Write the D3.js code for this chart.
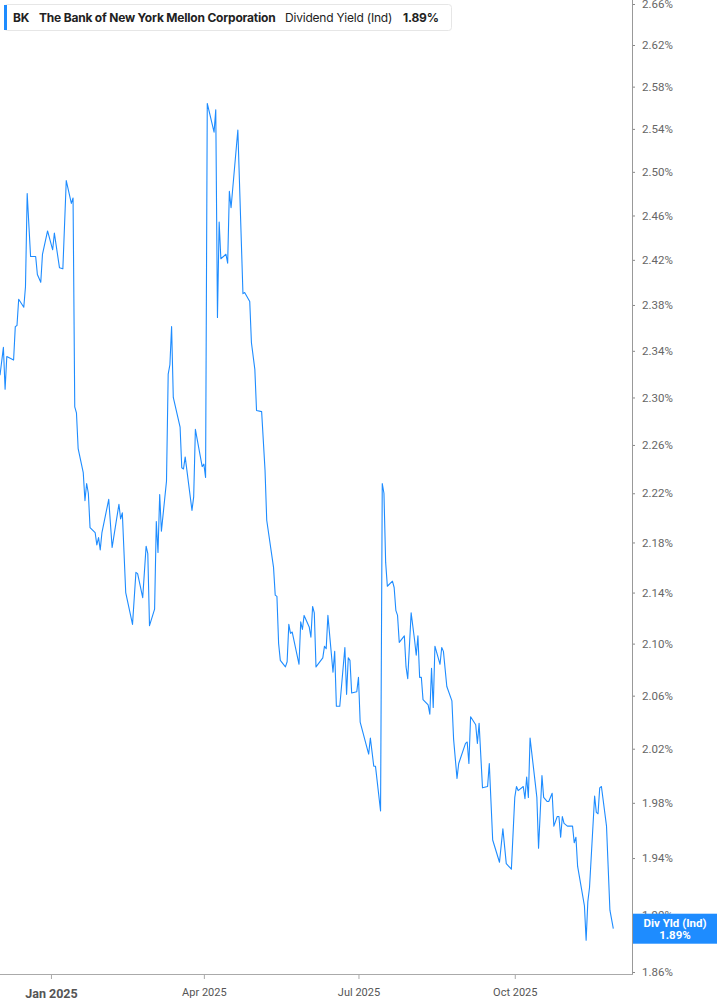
<!DOCTYPE html>
<html>
<head>
<meta charset="utf-8">
<script src="https://cdn.jsdelivr.net/npm/d3@7"></script>
<style>
  body { margin: 0; background: #fff; }
  svg { display: block; }
  .tick text { font-family: Roboto, "Noto Sans", sans-serif; }
</style>
</head>
<body>
<svg id="chart"></svg>
<script>
// Dividend yield (indicated), BK, in percent
const dates = [
  "2024-12-02","2024-12-04","2024-12-05","2024-12-06","2024-12-10","2024-12-11","2024-12-12","2024-12-13",
  "2024-12-16","2024-12-17","2024-12-18","2024-12-20","2024-12-23","2024-12-24","2024-12-26","2024-12-27",
  "2024-12-30","2025-01-02","2025-01-03","2025-01-06","2025-01-08","2025-01-10","2025-01-13","2025-01-14",
  "2025-01-15","2025-01-16","2025-01-17","2025-01-20","2025-01-21","2025-01-22","2025-01-23","2025-01-24",
  "2025-01-27","2025-01-28","2025-01-29","2025-01-30","2025-01-31","2025-02-04","2025-02-06","2025-02-10",
  "2025-02-11","2025-02-12","2025-02-14","2025-02-18","2025-02-20","2025-02-21","2025-02-24","2025-02-26",
  "2025-02-27","2025-02-28","2025-03-03","2025-03-04","2025-03-05","2025-03-06","2025-03-07","2025-03-10",
  "2025-03-11","2025-03-12","2025-03-13","2025-03-14","2025-03-18","2025-03-19","2025-03-20","2025-03-21",
  "2025-03-25","2025-03-26","2025-03-27","2025-03-31","2025-04-01","2025-04-02","2025-04-03","2025-04-07",
  "2025-04-08","2025-04-09","2025-04-10","2025-04-11","2025-04-14","2025-04-15","2025-04-16","2025-04-17",
  "2025-04-21","2025-04-24","2025-04-25","2025-04-28","2025-04-29","2025-05-01","2025-05-02","2025-05-05",
  "2025-05-07","2025-05-08","2025-05-12","2025-05-13","2025-05-14","2025-05-15","2025-05-16","2025-05-19",
  "2025-05-20","2025-05-21","2025-05-22","2025-05-23","2025-05-27","2025-05-28","2025-05-29","2025-05-30",
  "2025-06-02","2025-06-03","2025-06-04","2025-06-05","2025-06-06","2025-06-10","2025-06-11","2025-06-12",
  "2025-06-13","2025-06-16","2025-06-17","2025-06-18","2025-06-20","2025-06-23","2025-06-24","2025-06-25",
  "2025-06-26","2025-06-27","2025-06-30","2025-07-01","2025-07-02","2025-07-07","2025-07-08","2025-07-10",
  "2025-07-11","2025-07-14","2025-07-15","2025-07-16","2025-07-17","2025-07-18","2025-07-21","2025-07-22",
  "2025-07-23","2025-07-24","2025-07-25","2025-07-28","2025-07-29","2025-07-30","2025-08-01","2025-08-03",
  "2025-08-04","2025-08-05","2025-08-06","2025-08-07","2025-08-08","2025-08-11","2025-08-12","2025-08-13",
  "2025-08-14","2025-08-15","2025-08-18","2025-08-19","2025-08-20","2025-08-22","2025-08-25","2025-08-26",
  "2025-08-28","2025-08-29","2025-09-02","2025-09-03","2025-09-04","2025-09-05","2025-09-08","2025-09-09",
  "2025-09-10","2025-09-12","2025-09-15","2025-09-16","2025-09-18","2025-09-22","2025-09-24","2025-09-26",
  "2025-09-29","2025-10-01","2025-10-02","2025-10-03","2025-10-06","2025-10-07","2025-10-08","2025-10-09",
  "2025-10-10","2025-10-13","2025-10-14","2025-10-15","2025-10-17","2025-10-18","2025-10-20","2025-10-21",
  "2025-10-23","2025-10-24","2025-10-26","2025-10-27","2025-10-28","2025-10-29","2025-10-30","2025-11-01",
  "2025-11-03","2025-11-04","2025-11-05","2025-11-06","2025-11-07","2025-11-11","2025-11-12","2025-11-13",
  "2025-11-14","2025-11-17","2025-11-18","2025-11-19","2025-11-20","2025-11-21","2025-11-24","2025-11-26",
  "2025-11-28"
];

const yields = [
  2.319,2.343,2.307,2.335,2.332,2.361,2.362,2.385,
  2.378,2.396,2.480,2.423,2.423,2.407,2.400,2.425,
  2.446,2.429,2.444,2.413,2.412,2.492,2.471,2.476,
  2.292,2.287,2.257,2.237,2.214,2.228,2.220,2.192,
  2.188,2.178,2.184,2.174,2.188,2.215,2.176,2.211,
  2.199,2.204,2.140,2.115,2.156,2.155,2.136,2.177,
  2.171,2.114,2.127,2.197,2.172,2.219,2.189,2.230,
  2.320,2.328,2.361,2.300,2.275,2.241,2.240,2.250,
  2.206,2.217,2.273,2.242,2.244,2.233,2.564,2.537,
  2.558,2.369,2.454,2.421,2.425,2.417,2.482,2.467,
  2.539,2.390,2.391,2.383,2.347,2.324,2.289,2.288,
  2.239,2.198,2.160,2.138,2.137,2.100,2.087,2.082,
  2.086,2.115,2.108,2.109,2.084,2.117,2.111,2.122,
  2.113,2.105,2.129,2.124,2.082,2.089,2.098,2.096,
  2.122,2.078,2.094,2.052,2.052,2.097,2.061,2.089,
  2.087,2.062,2.063,2.074,2.040,2.016,2.028,2.007,
  2.007,1.974,2.228,2.220,2.164,2.145,2.149,2.144,
  2.126,2.122,2.101,2.106,2.082,2.073,2.124,2.103,
  2.091,2.106,2.074,2.074,2.057,2.053,2.046,2.081,
  2.051,2.098,2.084,2.097,2.094,2.067,2.056,2.027,
  1.998,2.009,2.024,2.025,2.009,2.044,2.038,2.024,
  2.039,1.991,1.992,2.009,1.953,1.937,1.961,1.936,
  1.932,1.984,1.992,1.989,1.992,1.983,1.999,1.984,
  2.028,1.995,1.984,1.947,2.000,1.984,1.981,1.981,
  1.987,1.963,1.970,1.970,1.955,1.970,1.965,1.963,
  1.963,1.963,1.951,1.955,1.934,1.906,1.882,1.909,
  1.919,1.985,1.973,1.972,1.991,1.992,1.963,1.903,
  1.890
];

const yTicks = [1.86,1.90,1.94,1.98,2.02,2.06,2.10,2.14,2.18,2.22,2.26,2.30,2.34,2.38,2.42,2.46,2.50,2.54,2.58,2.62,2.66];
const xTickDates = ["2025-01-01","2025-04-01","2025-07-01","2025-10-01"];
const xTickLabels = ["Jan 2025","Apr 2025","Jul 2025","Oct 2025"];

const ticker = "BK";
const company = "The Bank of New York Mellon Corporation";
const metric = "Dividend Yield (Ind)";
const lastValue = yields[yields.length - 1];

const W = 717, H = 1005;
const plotRight = 632;   // y axis sits here
const plotBottom = 974;  // x axis line
const lineColor = "#1e8cff";

const parse = d3.timeParse("%Y-%m-%d");
const data = dates.map((d, i) => ({ date: parse(d), value: yields[i] }));

const svg = d3.select("#chart")
    .attr("width", W)
    .attr("height", H)
    .attr("viewBox", `0 0 ${W} ${H}`);

const x = d3.scaleTime()
    .domain([parse("2024-12-02"), parse("2025-12-09")])
    .range([0, plotRight]);

// log scale on the yield axis
const y = d3.scaleLog()
    .domain([1.86, 2.66])
    .range([972, 4]);

svg.append("defs").append("clipPath")
    .attr("id", "plotClip")
    .append("rect")
    .attr("x", 0).attr("y", 0)
    .attr("width", plotRight).attr("height", plotBottom);

// y axis on the right
const yAxis = svg.append("g")
    .attr("transform", `translate(${plotRight},0)`)
    .call(d3.axisRight(y)
        .tickValues(yTicks)
        .tickSize(3)
        .tickSizeOuter(0)
        .tickPadding(7)
        .tickFormat(d => d.toFixed(2) + "%"));
yAxis.select(".domain").remove();
yAxis.selectAll(".tick line").attr("stroke", "#888");
yAxis.selectAll(".tick text")
    .attr("fill", "#666")
    .style("font-size", "11.5px");

svg.append("line")
    .attr("x1", plotRight + 0.5).attr("x2", plotRight + 0.5)
    .attr("y1", 0).attr("y2", plotBottom)
    .attr("stroke", "#999").attr("stroke-width", 1);

// x axis
const xAxis = svg.append("g")
    .attr("transform", `translate(0,${plotBottom})`)
    .call(d3.axisBottom(x)
        .tickValues(xTickDates.map(parse))
        .tickSize(5)
        .tickSizeOuter(0)
        .tickPadding(9)
        .tickFormat((d, i) => xTickLabels[i]));
xAxis.select(".domain").remove();
xAxis.selectAll(".tick line").attr("stroke", "#aaa");
xAxis.selectAll(".tick text")
    .attr("fill", "#555")
    .style("font-size", "11px");
xAxis.selectAll(".tick text")
    .filter((d, i) => i === 0)
    .style("font-weight", "bold")
    .style("font-size", "12.5px")
    .attr("dy", "0.8em");

svg.append("line")
    .attr("x1", 0).attr("x2", plotRight + 1)
    .attr("y1", plotBottom + 0.5).attr("y2", plotBottom + 0.5)
    .attr("stroke", "#aaa").attr("stroke-width", 1.2);

// the yield line
const line = d3.line()
    .x(d => x(d.date))
    .y(d => y(d.value));

svg.append("path")
    .datum(data)
    .attr("clip-path", "url(#plotClip)")
    .attr("fill", "none")
    .attr("stroke", lineColor)
    .attr("stroke-width", 1.1)
    .attr("stroke-linejoin", "round")
    .attr("d", line);

// last value tag on the axis
const tagY = y(lastValue);
const tag = svg.append("g");
tag.append("rect")
    .attr("x", plotRight + 1)
    .attr("y", tagY - 15)
    .attr("width", W - plotRight)
    .attr("height", 30)
    .attr("fill", lineColor);
tag.append("text")
    .attr("x", 675).attr("y", tagY - 1.5)
    .attr("text-anchor", "middle")
    .attr("fill", "#fff")
    .style("font-family", "Roboto, sans-serif")
    .style("font-size", "11.5px")
    .style("font-weight", "bold")
    .text("Div Yld (Ind)");
tag.append("text")
    .attr("x", 675).attr("y", tagY + 10)
    .attr("text-anchor", "middle")
    .attr("fill", "#fff")
    .style("font-family", "Roboto, sans-serif")
    .style("font-size", "11.5px")
    .style("font-weight", "bold")
    .text(lastValue.toFixed(2) + "%");

// legend box
const legend = svg.append("g");
legend.append("rect")
    .attr("x", 4.5).attr("y", 4.5)
    .attr("width", 447).attr("height", 26)
    .attr("rx", 3)
    .attr("fill", "#fff")
    .attr("stroke", "#e6e6e6");
legend.append("rect")
    .attr("x", 4).attr("y", 5)
    .attr("width", 3).attr("height", 25)
    .attr("fill", lineColor);

const legendText = legend.append("text")
    .attr("y", 22)
    .style("font-family", "Inter, Roboto, sans-serif")
    .style("font-size", "12px")
    .style("letter-spacing", "-0.2px")
    .attr("fill", "#222");
legendText.append("tspan").attr("x", 13).style("font-weight", 700).text(ticker);
legendText.append("tspan").attr("x", 39).style("font-weight", 700).text(company);
legendText.append("tspan").attr("x", 285).style("font-weight", 400).text(metric);
legendText.append("tspan").attr("x", 403).style("font-weight", 700).text(lastValue.toFixed(2) + "%");
</script>
</body>
</html>
